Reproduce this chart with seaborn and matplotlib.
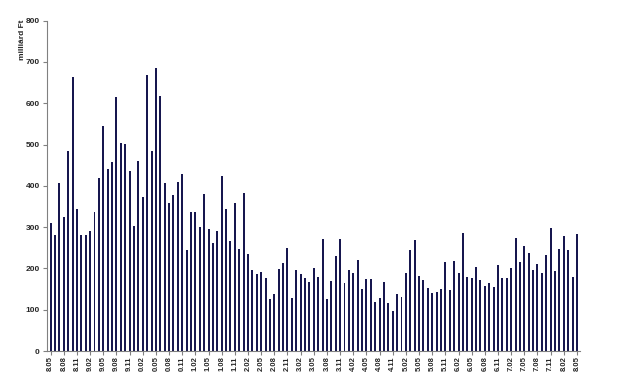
import matplotlib
matplotlib.use("Agg")
import matplotlib.pyplot as plt
import seaborn as sns
import pandas as pd

sns.set_theme(style="white")
plt.rcParams['font.family'] = ['Liberation Sans', 'DejaVu Sans']

# monthly values, 1998.05 .. 2008.05 (milliárd Ft)
values = [
    310, 281, 406, 325, 484, 664, 345, 281, 282, 290,
    336, 419, 545, 442, 457, 615, 503, 502, 435, 302,
    460, 372, 669, 485, 685, 617, 408, 359, 379, 410,
    428, 245, 337, 336, 301, 380, 296, 261, 290, 424,
    344, 266, 358, 246, 382, 236, 197, 186, 191, 176,
    126, 137, 199, 214, 249, 128, 197, 186, 176, 167,
    201, 180, 271, 126, 170, 229, 271, 164, 197, 190,
    220, 150, 174, 174, 119, 128, 167, 117, 97, 139,
    132, 189, 244, 270, 182, 172, 153, 140, 144, 149,
    216, 147, 218, 190, 287, 179, 178, 204, 171, 157,
    165, 155, 209, 178, 178, 202, 274, 216, 255, 237,
    197, 211, 190, 233, 297, 193, 247, 278, 244, 179,
    283,
]

tick_labels = [
    "8.05", "8.08", "8.11", "9.02", "9.05", "9.08", "9.11",
    "0.02", "0.05", "0.08", "0.11", "1.02", "1.05", "1.08", "1.11",
    "2.02", "2.05", "2.08", "2.11", "3.02", "3.05", "3.08", "3.11",
    "4.02", "4.05", "4.08", "4.11", "5.02", "5.05", "5.08", "5.11",
    "6.02", "6.05", "6.08", "6.11", "7.02", "7.05", "7.08", "7.11",
    "8.02", "8.05",
]

months = pd.period_range("1998-05", periods=len(values), freq="M").astype(str)
df = pd.DataFrame({"month": months, "value": values})

fig = plt.figure(figsize=(6.17, 3.73), dpi=100)
ax = fig.add_axes([46.7 / 617, 22 / 373, (580 - 46.7) / 617, (351 - 20.7) / 373])

sns.barplot(data=df, x="month", y="value", color="#17174f", saturation=1,
            width=0.45, ax=ax, edgecolor="none")

ax.set_xlim(-0.9, 120.7)
ax.set_ylim(0, 800)
ax.set_yticks(range(0, 801, 100))
ax.set_yticklabels([str(v) for v in range(0, 801, 100)], fontsize=6, fontweight="bold")
ax.set_xticks(range(0, len(values), 3))
ax.set_xticklabels(tick_labels, rotation=90, fontsize=5.5, fontweight="bold")
ax.set_xlabel("")
ax.set_ylabel("")

for s in ["top", "right"]:
    ax.spines[s].set_visible(False)
for s in ["left", "bottom"]:
    ax.spines[s].set_color("#808080")
    ax.spines[s].set_linewidth(0.8)
ax.tick_params(axis="y", direction="out", length=3, width=0.8,
               color="#808080", pad=2, left=True)
ax.tick_params(axis="x", direction="out", length=3, width=0.8,
               color="#808080", pad=1, bottom=True)
ax.grid(False)

fig.text(23 / 617, 1 - 20 / 373, "milliárd Ft", rotation=90, va="top", ha="center",
         fontsize=6, fontweight="bold")

fig.savefig("out.png", dpi=100)
